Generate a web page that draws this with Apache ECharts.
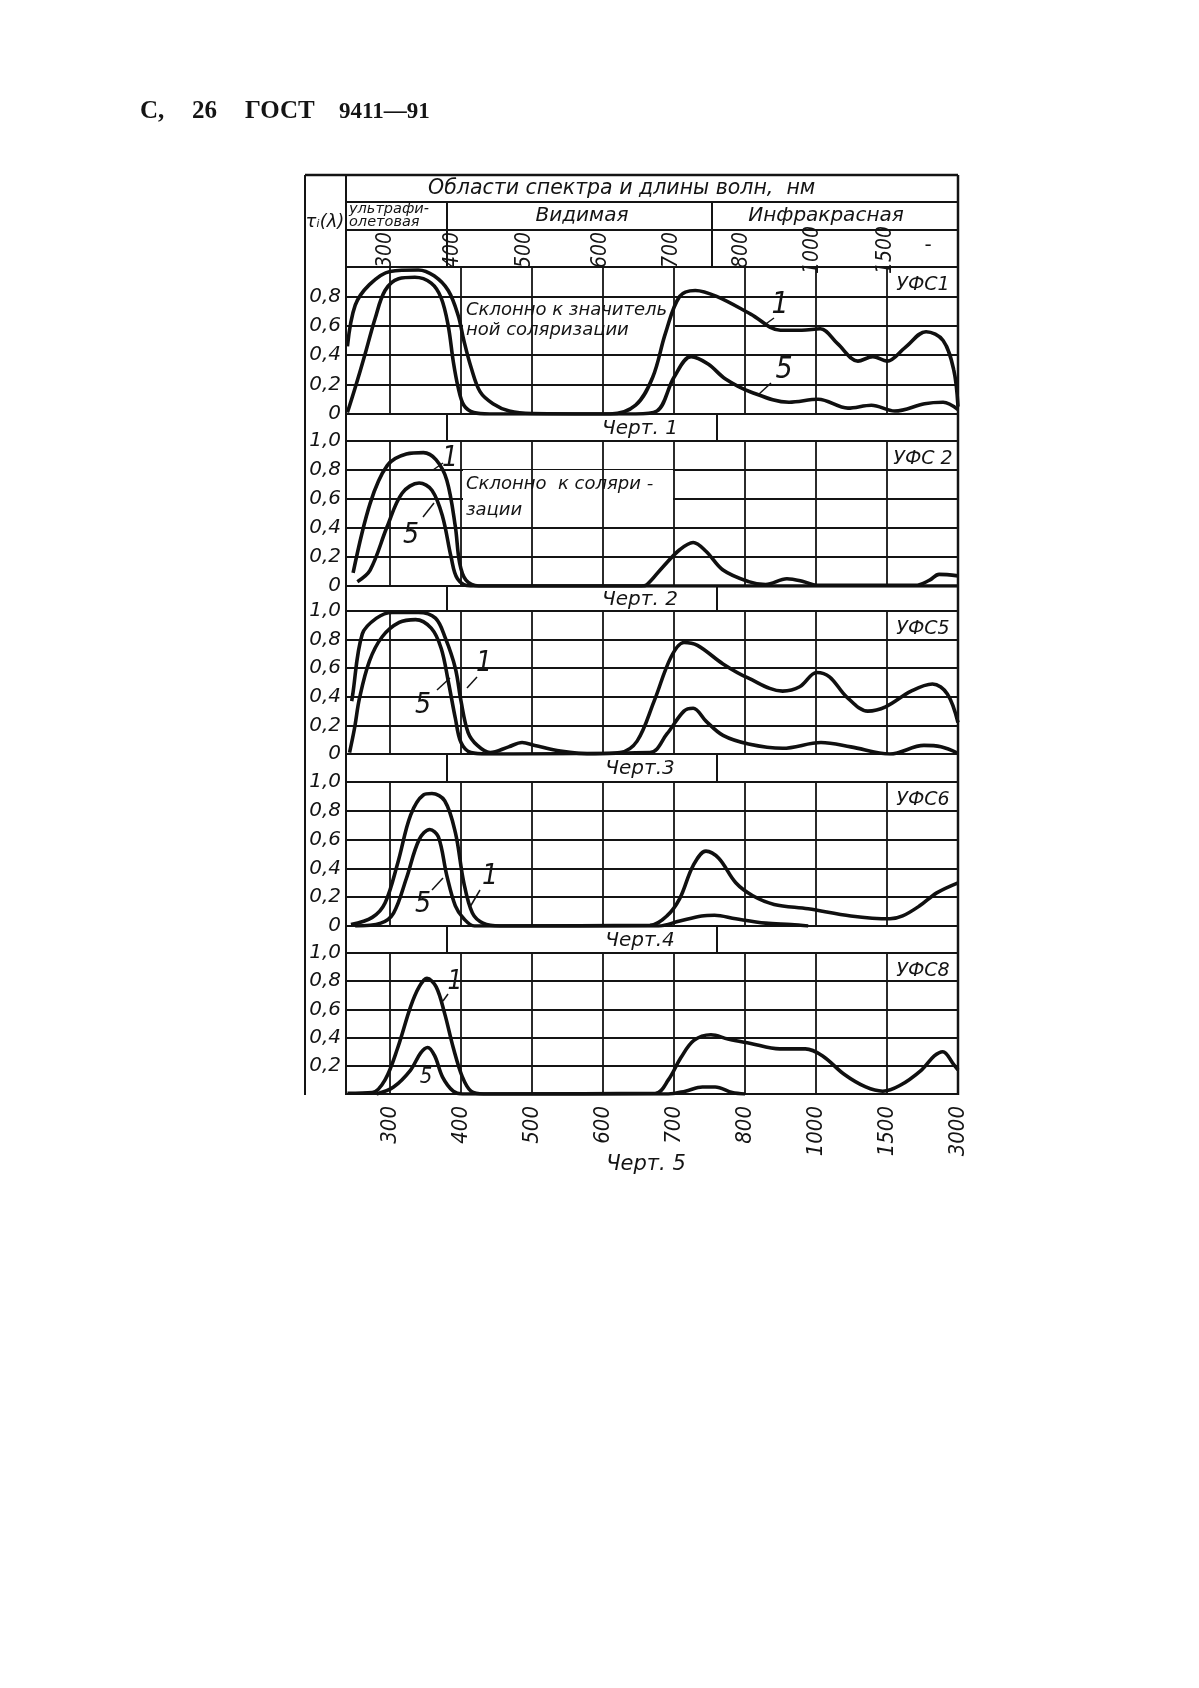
<!DOCTYPE html>
<html><head><meta charset="utf-8">
<script src="https://cdn.jsdelivr.net/npm/echarts@6/dist/echarts.min.js"></script>
<style>html,body{margin:0;padding:0;background:#fff}#c{width:1199px;height:1688px}</style>
</head><body><div id="c"></div><script>
// ---- axis definitions ----
const tickNm = [300, 400, 500, 600, 700, 800, 1000, 1500, 3000];
const tickLabels = ['300', '400', '500', '600', '700', '800', '1000', '1500', '3000'];
const headerLabels = ['300', '400', '500', '600', '700', '800', '1000', '1500'];
const panelNames = ['УФС1', 'УФС 2', 'УФС5', 'УФС6', 'УФС8'];
const captions = ['Черт. 1', 'Черт. 2', 'Черт.3', 'Черт.4', 'Черт. 5'];

// ---- data: [wavelength nm, transmittance] ----
const ufs1_curve1 = [[240,0.46],[251,0.74],[271,0.88],[300,0.97],[340,0.98],[362,0.94],[382,0.84],[396,0.67],[404,0.5],[414,0.32],[427,0.15],[445,0.07],[468,0.02],[500,0.003],[610,0],[646,0.06],[670,0.25],[688,0.55],[708,0.8],[730,0.84],[760,0.8],[816,0.68],[900,0.57],[960,0.57],[1030,0.58],[1150,0.48],[1295,0.36],[1400,0.39],[1500,0.36],[1875,0.45],[2325,0.56],[2685,0.5],[2910,0.3],[3000,0.05]];
const ufs1_curve5 = [[240,0.01],[251,0.18],[265,0.41],[279,0.65],[293,0.84],[312,0.92],[335,0.93],[358,0.89],[372,0.79],[382,0.6],[389,0.36],[396,0.18],[404,0.06],[418,0.01],[440,0],[646,0],[676,0.02],[700,0.25],[724,0.39],[748,0.34],[772,0.24],[816,0.15],[924,0.08],[1015,0.1],[1225,0.04],[1390,0.06],[1665,0.02],[2295,0.07],[2685,0.08],[3000,0.03]];

const ufs2_curve1 = [[248,0.09],[272,0.57],[296,0.83],[323,0.91],[347,0.92],[365,0.87],[380,0.73],[392,0.41],[398,0.16],[407,0.04],[425,0],[654,0],[662,0.01],[684,0.13],[708,0.25],[727,0.3],[745,0.24],[769,0.11],[810,0.03],[858,0.01],[918,0.05],[966,0.03],[1005,0.005],[2100,0.005],[2400,0.04],[2600,0.08],[3000,0.07]];
const ufs2_curve5 = [[254,0.03],[272,0.11],[296,0.41],[317,0.64],[341,0.71],[359,0.66],[374,0.48],[386,0.2],[395,0.05],[413,0],[3000,0]];

const ufs5_curve1 = [[246,0.37],[247,0.4],[261,0.84],[281,0.95],[303,0.99],[340,0.99],[364,0.95],[378,0.81],[392,0.6],[400,0.37],[410,0.15],[423,0.06],[441,0.01],[467,0.05],[486,0.08],[504,0.06],[540,0.02],[588,0],[624,0.01],[648,0.09],[672,0.37],[696,0.68],[714,0.78],[733,0.76],[769,0.63],[810,0.53],[906,0.44],[954,0.47],[1005,0.57],[1095,0.54],[1215,0.4],[1365,0.3],[1490,0.33],[2010,0.44],[2460,0.49],[2775,0.42],[3000,0.22]];
const ufs5_curve5 = [[243,0.01],[250,0.18],[257,0.39],[271,0.65],[289,0.82],[313,0.92],[336,0.94],[358,0.88],[372,0.74],[382,0.51],[392,0.25],[400,0.08],[414,0.01],[437,0],[666,0.01],[690,0.14],[714,0.3],[727,0.32],[745,0.23],[769,0.13],[810,0.07],[906,0.04],[1035,0.08],[1245,0.05],[1560,0],[2280,0.06],[2640,0.05],[3000,0.005]];

const ufs6_curve1 = [[245,0.01],[275,0.06],[293,0.16],[311,0.44],[329,0.77],[347,0.91],[359,0.92],[377,0.87],[392,0.65],[404,0.3],[416,0.09],[431,0.02],[455,0],[666,0.005],[690,0.07],[708,0.19],[727,0.42],[745,0.52],[763,0.47],[787,0.3],[822,0.21],[882,0.15],[978,0.12],[1245,0.07],[1560,0.05],[1830,0.07],[2190,0.14],[2550,0.23],[3000,0.3]];
const ufs6_curve5 = [[251,0],[287,0.02],[305,0.09],[323,0.33],[341,0.6],[356,0.67],[368,0.62],[380,0.35],[392,0.14],[404,0.05],[419,0],[678,0],[708,0.035],[739,0.07],[757,0.075],[787,0.05],[858,0.02],[930,0.01],[978,0]];

const ufs8_curve1 = [[240,0.005],[275,0.01],[293,0.1],[311,0.33],[329,0.62],[341,0.76],[352,0.82],[365,0.76],[377,0.57],[389,0.33],[402,0.12],[414,0.02],[432,0],[674,0.005],[692,0.1],[710,0.26],[728,0.38],[752,0.42],[776,0.39],[813,0.36],[898,0.32],[970,0.32],[1047,0.27],[1198,0.14],[1350,0.05],[1470,0.02],[1770,0.06],[2228,0.17],[2499,0.27],[2680,0.3],[2907,0.21],[3000,0.17]];
const ufs8_curve5 = [[281,0],[305,0.05],[329,0.17],[343,0.29],[353,0.33],[363,0.27],[374,0.12],[389,0.02],[402,0],[692,0],[716,0.02],[740,0.05],[758,0.05],[782,0.01],[800,0]];

const curves1 = [ufs1_curve1, ufs2_curve1, ufs5_curve1, ufs6_curve1, ufs8_curve1];
const curves5 = [ufs1_curve5, ufs2_curve5, ufs5_curve5, ufs6_curve5, ufs8_curve5];

// wavelength -> position on the chart's (piecewise) wavelength scale
function pos(nm) {
  if (nm <= tickNm[0]) return (nm - tickNm[0]) / (tickNm[1] - tickNm[0]);
  for (let i = 1; i < tickNm.length; i++) {
    if (nm <= tickNm[i]) return i - 1 + (nm - tickNm[i - 1]) / (tickNm[i] - tickNm[i - 1]);
  }
  return tickNm.length - 1;
}

const INK = '#141414';
const SANS = "'DejaVu Sans', sans-serif";
const NARROW = "'Liberation Sans Narrow','DejaVu Sans Condensed','DejaVu Sans',sans-serif";
const LEFT = 346, RIGHT = 958, OUTL = 305, TOP = 175;
const tops = [267, 441, 611, 782, 953];
const bottoms = [414, 586, 754, 926, 1094];

const grids = [], xAxes = [], yAxes = [], series = [];
for (let i = 0; i < 5; i++) {
  grids.push({left: LEFT, width: RIGHT - LEFT, top: tops[i], height: bottoms[i] - tops[i],
    show: true, borderColor: INK, borderWidth: 2, backgroundColor: 'transparent', containLabel: false});
  xAxes.push({type: 'value', gridIndex: i, min: -0.62, max: 8,
    axisLine: {show: false}, axisTick: {show: false}, splitLine: {show: false},
    axisLabel: i === 4 ? {show: true, customValues: [0,1,2,3,4,5,6,7,8],
      formatter: v => tickLabels[Math.round(v)], rotate: 90, margin: 12,
      fontStyle: 'italic', fontSize: 22, fontFamily: NARROW, color: INK} : {show: false}});
  yAxes.push({type: 'value', gridIndex: i, min: 0, max: 1, interval: 0.2,
    axisLine: {show: false}, axisTick: {show: false},
    splitLine: {show: true, lineStyle: {color: INK, width: 1.8}},
    axisLabel: {show: true, margin: 5, fontStyle: 'italic', fontSize: 20, fontFamily: SANS, color: INK,
      formatter: v => {
        if (i === 0 && v > 0.99) return '';
        if (i === 4 && v < 0.01) return '';
        if (v < 0.01) return '0';
        return v.toFixed(1).replace('.', ',');
      }}});
  series.push({type: 'line', xAxisIndex: i, yAxisIndex: i, data: [[0, 0]], symbol: 'none',
    lineStyle: {opacity: 0}, silent: true, z: 1,
    markLine: {silent: true, symbol: ['none', 'none'], label: {show: false},
      lineStyle: {color: INK, width: 1.8, type: 'solid'},
      data: [0,1,2,3,4,5,6,7].map(v => ({xAxis: v}))}});
  [curves1[i], curves5[i]].forEach(c => {
    series.push({type: 'line', xAxisIndex: i, yAxisIndex: i, smooth: 0.35, symbol: 'none',
      lineStyle: {color: '#101010', width: 3.6}, z: 5, silent: true,
      data: c.map(p => [pos(p[0]), p[1]])});
  });
}

// ---- graphic: frame, header, captions, annotations ----
const g = [];
function L(x1, y1, x2, y2, w) {
  g.push({type: 'line', shape: {x1, y1, x2, y2}, style: {stroke: INK, lineWidth: w || 2}, z: 10, silent: true});
}
function T(str, x, y, size, opt) {
  opt = opt || {};
  g.push({type: 'text', x: x, y: y, rotation: opt.rot || 0, z: 11, silent: true,
    style: {text: str, fill: INK, font: (opt.weight || '') + ' ' + (opt.style || 'italic') + ' ' + size + 'px ' + (opt.family || SANS),
      textAlign: opt.align || 'center', textVerticalAlign: 'middle', align: opt.align || 'center', verticalAlign: 'middle',
      lineHeight: opt.lh || size}});
}
function BOX(x, y, w, h) {
  g.push({type: 'rect', shape: {x, y, width: w, height: h}, style: {fill: '#fff'}, z: 3, silent: true});
}

// page header
const SERIF = "'Liberation Serif',serif";
T('С,', 140, 112, 25, {style: 'normal', weight: 'bold', family: SERIF, align: 'left'});
T('26', 192, 112, 25, {style: 'normal', weight: 'bold', family: SERIF, align: 'left'});
T('ГОСТ', 245, 112, 25, {style: 'normal', weight: 'bold', family: SERIF, align: 'left'});
T('9411—91', 339, 112, 23, {style: 'normal', weight: 'bold', family: SERIF, align: 'left'});

// frame
L(OUTL, TOP, OUTL, 1095, 2);
L(LEFT, TOP, LEFT, 1095, 2);
L(RIGHT, TOP, RIGHT, 1095, 2.5);
L(OUTL, TOP, RIGHT, TOP, 2.5);
L(LEFT, 202, RIGHT, 202, 2);
L(LEFT, 230, RIGHT, 230, 2);
L(LEFT, 267, RIGHT, 267, 2);
L(447, 202, 447, 267, 2);
L(712, 202, 712, 267, 2);

// header texts
T('Области спектра и длины волн,  нм', 428, 189, 20.5, {align: 'left'});
T('τᵢ(λ)', 325, 222, 18, {});
T('ультрафи-', 349, 209, 14.5, {align: 'left'});
T('олетовая', 349, 222, 14.5, {align: 'left'});
T('Видимая', 582, 216, 20, {});
T('Инфракрасная', 826, 216, 20, {});
const headerX = [386, 453, 525, 601, 672, 742, 813, 886];
headerLabels.forEach((s, k) => T(s, headerX[k], 250, 21, {rot: Math.PI / 2, family: NARROW}));
T('-', 928, 246, 20, {style: 'normal'});

// caption rows
for (let i = 0; i < 4; i++) {
  L(447, bottoms[i], 447, tops[i + 1], 2);
  L(717, bottoms[i], 717, tops[i + 1], 2);
  T(captions[i], 640, (bottoms[i] + tops[i + 1]) / 2 + 1, 20, {});
}
T(captions[4], 646, 1165, 21, {});

// panel names
panelNames.forEach((s, i) => T(s, 923, tops[i] + 18, 19, {}));

// panel 1 note
BOX(463, 298, 212, 44);
T('Склонно к значитель', 466, 310, 18, {align: 'left'});
T('ной соляризации', 466, 330, 18, {align: 'left'});
// panel 2 note
BOX(463, 470, 210, 54);
T('Склонно  к соляри -', 466, 484, 18, {align: 'left'});
T('зации', 466, 510, 18, {align: 'left'});

// curve labels 1 / 5 with leaders
const LBL = {family: NARROW, style: 'italic'};
// panel 1
T('1', 780, 305, 30, LBL); L(774, 318, 763, 326, 1.5);
T('5', 784, 370, 30, LBL); L(771, 383, 758, 395, 1.5);
// panel 2
T('1', 450, 459, 28, LBL); L(443, 463, 433, 470, 1.5);
T('5', 411, 536, 28, LBL); L(423, 517, 434, 503, 1.5);
// panel 3
T('1', 484, 664, 28, LBL); L(477, 677, 467, 688, 1.5);
T('5', 423, 706, 28, LBL); L(437, 690, 450, 678, 1.5);
// panel 4
T('1', 490, 877, 28, LBL); L(480, 890, 470, 907, 1.5);
T('5', 423, 905, 28, LBL); L(432, 890, 443, 878, 1.5);
// panel 5
T('1', 455, 982, 26, LBL); L(448, 994, 443, 1001, 1.5);
T('5', 426, 1077, 22, LBL);

const chart = echarts.init(document.getElementById('c'));
chart.setOption({
  animation: false,
  backgroundColor: '#fff',
  grid: grids,
  xAxis: xAxes,
  yAxis: yAxes,
  series: series,
  graphic: {elements: g}
});
</script></body></html>
